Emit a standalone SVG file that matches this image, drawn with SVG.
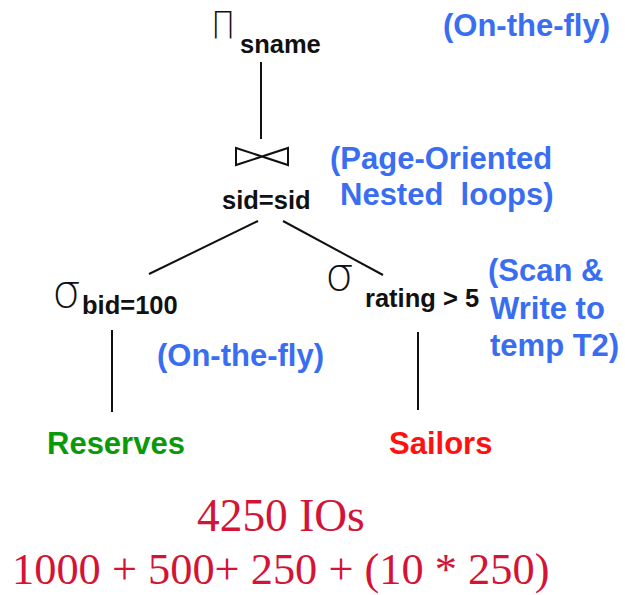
<svg xmlns="http://www.w3.org/2000/svg" width="625" height="595" viewBox="0 0 625 595">
  <style>
    .op { font-family: "Liberation Sans", Arial, sans-serif; font-weight: bold; font-size: 25.5px; fill: #111; }
    .greek { font-family: "DejaVu Sans", sans-serif; font-weight: 200; fill: #111; }
    .note { font-family: "Liberation Sans", Arial, sans-serif; font-weight: bold; font-size: 31px; fill: #3a6ef0; }
    .rel { font-family: "Liberation Sans", Arial, sans-serif; font-weight: bold; font-size: 31px; }
    .cost { font-family: "Liberation Serif", "Times New Roman", serif; fill: #d41436; }
    .edge { stroke: #111; stroke-width: 2; fill: none; }
  </style>

  <rect width="625" height="595" fill="#fff"/>

  <!-- connectors -->
  <g id="connectors">
    <line class="edge" x1="261" y1="62" x2="261" y2="139"/>
    <line class="edge" x1="258" y1="221" x2="149" y2="274"/>
    <line class="edge" x1="283" y1="221" x2="383" y2="275"/>
    <line class="edge" x1="112" y1="330" x2="112" y2="412"/>
    <line class="edge" x1="418" y1="332" x2="418" y2="410"/>
  </g>

  <!-- projection -->
  <g id="project">
    <text class="greek" x="0" y="0" font-size="38" transform="translate(211,38) scale(0.85,1)">Π</text>
    <text class="op" x="240" y="53">sname</text>
  </g>

  <!-- join -->
  <g id="join">
    <path class="edge" d="M236,148 L288,165 L288,148 L236,165 Z"/>
    <text class="op" x="222" y="209">sid=sid</text>
  </g>

  <!-- selection on Reserves -->
  <g id="select-bid">
    <text class="greek" x="52" y="307" font-size="46">σ</text>
    <text class="op" x="82" y="314">bid=100</text>
  </g>

  <!-- selection on Sailors -->
  <g id="select-rating">
    <text class="greek" x="325" y="290" font-size="46">σ</text>
    <text class="op" x="365" y="307">rating &gt; 5</text>
  </g>

  <!-- base relations -->
  <g id="reserves">
    <text class="rel" x="47" y="454" fill="#0a990a">Reserves</text>
  </g>
  <g id="sailors">
    <text class="rel" x="389" y="454" fill="#ff1111">Sailors</text>
  </g>

  <!-- evaluation notes -->
  <g id="notes">
    <text class="note" x="443" y="36">(On-the-fly)</text>
    <text class="note" x="330" y="169">(Page-Oriented</text>
    <text class="note" x="340" y="205" xml:space="preserve">Nested  loops)</text>
    <text class="note" x="488" y="281">(Scan &amp;</text>
    <text class="note" x="490" y="319">Write to</text>
    <text class="note" x="490" y="356">temp T2)</text>
    <text class="note" x="157" y="366">(On-the-fly)</text>
  </g>

  <!-- total cost -->
  <g id="cost">
    <text class="cost" x="197" y="531" font-size="45.4">4250 IOs</text>
    <text class="cost" x="12" y="584" font-size="44.4">1000 + 500+ 250 + (10 * 250)</text>
  </g>
</svg>
